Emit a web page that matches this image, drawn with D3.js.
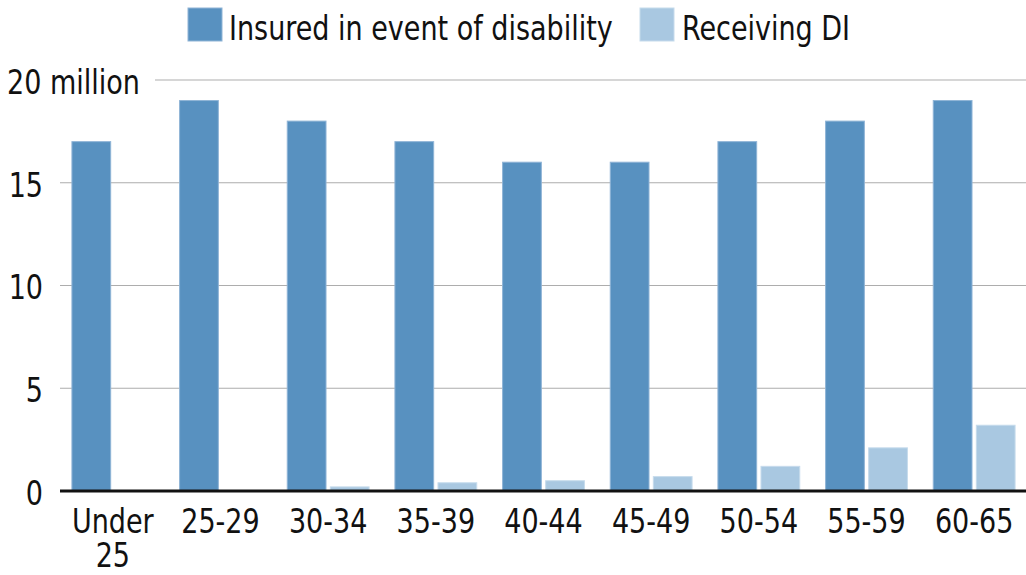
<!DOCTYPE html>
<html>
<head>
<meta charset="utf-8">
<script src="https://cdn.jsdelivr.net/npm/d3@7"></script>
<style>
  html, body { margin: 0; padding: 0; background: #fff; }
  svg text { font-family: "Liberation Sans Narrow", "DejaVu Sans Condensed", "Roboto", sans-serif; fill: #111; }
</style>
</head>
<body>
<svg id="chart" width="1026" height="575"></svg>
<script>
// Age groups and millions of workers in each
const categories = ["Under 25", "25-29", "30-34", "35-39", "40-44", "45-49", "50-54", "55-59", "60-65"];
const insured = [17, 19, 18, 17, 16, 16, 17, 18, 19];
const receiving = [0, 0, 0.2, 0.4, 0.5, 0.7, 1.2, 2.1, 3.2];
const seriesNames = ["Insured in event of disability", "Receiving DI"];
const seriesColors = ["#5891c0", "#a9c8e1"];
const yTicks = [0, 5, 10, 15, 20];
const yTickLabels = ["0", "5", "10", "15", "20 million"];

const svg = d3.select("#chart");
const W = 1026;

const y = d3.scaleLinear().domain([0, 20]).range([491, 80]);
const x0 = d3.scaleBand().domain(categories).range([59, 1028]).paddingInner(0.24).paddingOuter(0.12);
const x1 = d3.scaleBand().domain([0, 1]).range([0, x0.bandwidth()]).paddingInner(0.1);

const fontSize = 34;

// Narrow the type horizontally so it sets like a condensed face
let squeezeK = 1;
function squeeze(sel, ax) {
  sel.attr("transform", `translate(${ax},0) scale(${squeezeK},1) translate(${-ax},0)`);
}

// Legend (measured first to derive the condensing factor)
const legendItems = [
  { name: seriesNames[0], color: seriesColors[0], sx: 188, tx: 229, edge: "#8fb4d6" },
  { name: seriesNames[1], color: seriesColors[1], sx: 640, tx: 682, edge: "#c6dbec" }
];
const lg = svg.append("g");
const legendTexts = legendItems.map(it => {
  lg.append("rect").attr("x", it.sx).attr("y", 8).attr("width", 34).attr("height", 33)
    .attr("fill", it.color).attr("stroke", it.edge).attr("stroke-width", 1);
  return lg.append("text").attr("x", it.tx).attr("y", 40).attr("font-size", fontSize).text(it.name);
});
squeezeK = 384 / legendTexts[0].node().getComputedTextLength();
legendTexts.forEach((t, i) => squeeze(t, legendItems[i].tx));

// Horizontal gridlines
const grid = svg.append("g");
yTicks.forEach((t, i) => {
  if (t === 0) return;
  grid.append("line")
    .attr("x1", i === yTicks.length - 1 ? 155 : 60)
    .attr("x2", W)
    .attr("y1", y(t)).attr("y2", y(t))
    .attr("stroke", "#adadad").attr("stroke-width", 1.2);
});

// Y tick labels
yTicks.forEach((t, i) => {
  const last = i === yTicks.length - 1;
  const ax = last ? 7 : 43;
  const txt = svg.append("text")
    .attr("x", ax)
    .attr("y", y(t) + 14)
    .attr("text-anchor", last ? "start" : "end")
    .attr("font-size", fontSize)
    .text(yTickLabels[i]);
  squeeze(txt, ax);
});

// Bars
const rows = categories.map((c, i) => ({ c, vals: [insured[i], receiving[i]] }));
const groups = svg.append("g").selectAll("g").data(rows).join("g")
  .attr("transform", d => `translate(${x0(d.c)},0)`);
groups.selectAll("rect").data(d => d.vals.map((v, k) => ({ v, k }))).join("rect")
  .attr("x", d => x1(d.k))
  .attr("width", x1.bandwidth())
  .attr("y", d => y(d.v))
  .attr("height", d => y(0) - y(d.v))
  .attr("fill", d => seriesColors[d.k])
  .attr("stroke", d => d.k === 0 ? "#8fb4d6" : "#c6dbec")
  .attr("stroke-width", 1);

// Zero baseline
svg.append("line")
  .attr("x1", 60).attr("x2", W)
  .attr("y1", y(0)).attr("y2", y(0))
  .attr("stroke", "#111").attr("stroke-width", 3);

// X axis category labels (wrapped onto two lines where needed)
const xAxis = d3.axisBottom(x0).tickSize(0).tickPadding(0);
const gx = svg.append("g").attr("transform", `translate(0,${y(0)})`).call(xAxis);
gx.select(".domain").remove();
gx.selectAll(".tick text").remove();
gx.selectAll(".tick").each(function(d) {
  const words = d === "Under 25" ? ["Under", "25"] : [d];
  const t = d3.select(this).append("text")
    .attr("text-anchor", "middle")
    .attr("font-size", fontSize)
    .attr("fill", "#111");
  words.forEach((w, j) => {
    t.append("tspan").attr("x", 0).attr("y", 42 + j * 34).text(w);
  });
  squeeze(t, 0);
});
</script>
</body>
</html>
